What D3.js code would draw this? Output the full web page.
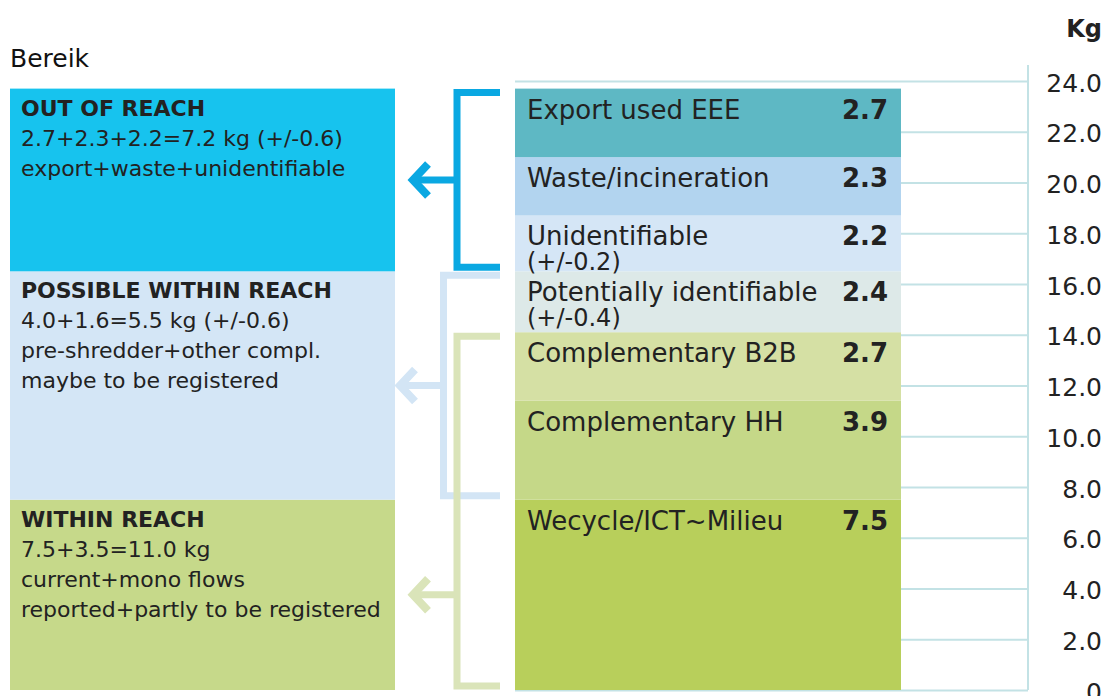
<!DOCTYPE html>
<html>
<head>
<meta charset="utf-8">
<script src="https://cdn.jsdelivr.net/npm/d3@7"></script>
<style>
  body { margin: 0; background: #fff; }
  svg { font-family: "DejaVu Sans", Verdana, sans-serif; }
</style>
</head>
<body>
<div class="chart"></div>
<script>
  // stacked from the bottom up
  var categories = ["Wecycle/ICT~Milieu", "Complementary HH", "Complementary B2B",
    "Potentially identifiable", "Unidentifiable", "Waste/incineration", "Export used EEE"];
  var values = [7.5, 3.9, 2.7, 2.4, 2.2, 2.3, 2.7];
  var notes = ["", "", "", "(+/-0.4)", "(+/-0.2)", "", ""];

  var tickValues = [0, 2, 4, 6, 8, 10, 12, 14, 16, 18, 20, 22, 24];
  var tickLabels = ["0", "2.0", "4.0", "6.0", "8.0", "10.0", "12.0", "14.0", "16.0", "18.0", "20.0", "22.0", "24.0"];

  // reach groups, bottom up
  var reachTitles = ["WITHIN REACH", "POSSIBLE WITHIN REACH", "OUT OF REACH"];
  var reachLines = [
    ["7.5+3.5=11.0 kg", "current+mono flows", "reported+partly to be registered"],
    ["4.0+1.6=5.5 kg (+/-0.6)", "pre-shredder+other compl.", "maybe to be registered"],
    ["2.7+2.3+2.2=7.2 kg (+/-0.6)", "export+waste+unidentifiable"]
  ];
  // which segments each box covers and which each bracket covers (first, last index)
  var boxSpans = [[0, 0], [1, 3], [4, 6]];
  var bracketSpans = [[0, 2], [1, 3], [4, 6]];

  var barColors = ["#b8cf5b", "#c5d888", "#d5e0a4", "#dde9e8", "#d5e6f6", "#b2d4ef", "#5eb8c4"];
  var boxColors = ["#c6d98a", "#d4e6f6", "#17c3ee"];
  var bracketColors = ["#dae4b9", "#d3e5f5", "#0aa8e2"];

  var width = 1106;
  var height = 696;

  var svg = d3.select('.chart')
    .append('svg')
    .attr('width', width)
    .attr('height', height);

  var y = d3.scaleLinear().domain([0, 24]).range([690, 81]);
  var color = d3.scaleOrdinal().domain(categories).range(barColors);

  // cumulative stack
  var stack = [];
  var acc = 0;
  values.forEach(function(v, i) {
    stack.push({ name: categories[i], value: v, note: notes[i], y0: acc, y1: acc + v });
    acc += v;
  });

  var barLeft = 515, barRight = 901, axisX = 1028;

  // gridlines
  svg.append('g')
    .attr('class', 'grid')
    .attr('transform', 'translate(' + barLeft + ',0)')
    .call(d3.axisRight(y).tickValues(tickValues).tickSize(axisX - barLeft).tickFormat(''))
    .call(function(g) { g.select('.domain').remove(); })
    .selectAll('line')
    .attr('stroke', '#c3e2e5')
    .attr('stroke-width', 2);

  svg.append('line')
    .attr('x1', axisX).attr('x2', axisX)
    .attr('y1', 65).attr('y2', y(0))
    .attr('stroke', '#c3e2e5')
    .attr('stroke-width', 2);

  // tick labels
  svg.append('g')
    .attr('transform', 'translate(1102,0)')
    .call(d3.axisLeft(y).tickValues(tickValues).tickSize(0).tickPadding(0)
      .tickFormat(function(d, i) { return tickLabels[i]; }))
    .call(function(g) { g.select('.domain').remove(); })
    .selectAll('text')
    .attr('font-family', '"DejaVu Sans", Verdana, sans-serif')
    .attr('font-size', 25)
    .attr('fill', '#222')
    .attr('dy', '0.4em');

  svg.append('text')
    .attr('x', 1102).attr('y', 37)
    .attr('text-anchor', 'end')
    .attr('font-size', 24)
    .attr('font-weight', 'bold')
    .attr('fill', '#222')
    .text('Kg');

  // stacked bar
  var seg = svg.selectAll('.seg')
    .data(stack)
    .enter()
    .append('g')
    .attr('class', 'seg');

  seg.append('rect')
    .attr('x', barLeft)
    .attr('width', barRight - barLeft)
    .attr('y', function(d) { return y(d.y1); })
    .attr('height', function(d) { return y(d.y0) - y(d.y1); })
    .attr('fill', function(d) { return color(d.name); });

  seg.append('text')
    .attr('x', 527)
    .attr('y', function(d) { return y(d.y1) + 30; })
    .attr('font-size', 26)
    .attr('fill', '#222')
    .text(function(d) { return d.name; });

  seg.append('text')
    .attr('x', 888)
    .attr('y', function(d) { return y(d.y1) + 30; })
    .attr('text-anchor', 'end')
    .attr('font-size', 26)
    .attr('font-weight', 'bold')
    .attr('fill', '#222')
    .text(function(d) { return d.value.toFixed(1); });

  seg.filter(function(d) { return d.note; })
    .append('text')
    .attr('x', 527)
    .attr('y', function(d) { return y(d.y1) + 55; })
    .attr('font-size', 24)
    .attr('fill', '#222')
    .text(function(d) { return d.note; });

  // left boxes
  svg.append('text')
    .attr('x', 10).attr('y', 67)
    .attr('font-size', 25)
    .attr('fill', '#111')
    .text('Bereik');

  var boxes = svg.selectAll('.box')
    .data(reachTitles)
    .enter()
    .append('g')
    .attr('class', 'box');

  boxes.append('rect')
    .attr('x', 10)
    .attr('width', 385)
    .attr('y', function(d, i) { return y(stack[boxSpans[i][1]].y1); })
    .attr('height', function(d, i) { return y(stack[boxSpans[i][0]].y0) - y(stack[boxSpans[i][1]].y1); })
    .attr('fill', function(d, i) { return boxColors[i]; });

  boxes.append('text')
    .attr('x', 21)
    .attr('y', function(d, i) { return y(stack[boxSpans[i][1]].y1) + 27; })
    .attr('font-size', 22)
    .attr('font-weight', 'bold')
    .attr('fill', '#222')
    .text(function(d) { return d; });

  boxes.each(function(d, i) {
    var top = y(stack[boxSpans[i][1]].y1);
    d3.select(this).selectAll('.line')
      .data(reachLines[i])
      .enter()
      .append('text')
      .attr('class', 'line')
      .attr('x', 21)
      .attr('y', function(t, j) { return top + 57 + j * 30; })
      .attr('font-size', 22)
      .attr('fill', '#222')
      .text(function(t) { return t; });
  });

  // brackets with arrows; light blue first, green over it, cyan last
  var bracketX = [457, 443.5, 457];
  var arrowTip = [413, 400, 413];
  [1, 0, 2].forEach(function(i) {
    var top = y(stack[bracketSpans[i][1]].y1) + 4;
    var bottom = y(stack[bracketSpans[i][0]].y0) - 4;
    var boxTop = y(stack[boxSpans[i][1]].y1);
    var boxBottom = y(stack[boxSpans[i][0]].y0);
    var mid = (boxTop + boxBottom) / 2;
    var vx = bracketX[i];
    var tip = arrowTip[i];
    var g = svg.append('g')
      .attr('fill', 'none')
      .attr('stroke', bracketColors[i]);
    g.append('path')
      .attr('stroke-width', 7)
      .attr('d', 'M500,' + top + 'H' + vx + 'V' + bottom + 'H500');
    g.append('path')
      .attr('stroke-width', 7)
      .attr('d', 'M' + vx + ',' + mid + 'H' + (tip + 3));
    g.append('path')
      .attr('stroke-width', 8)
      .attr('d', 'M' + (tip + 15) + ',' + (mid - 16) + 'L' + tip + ',' + mid + 'L' + (tip + 15) + ',' + (mid + 16));
  });
</script>
</body>
</html>
